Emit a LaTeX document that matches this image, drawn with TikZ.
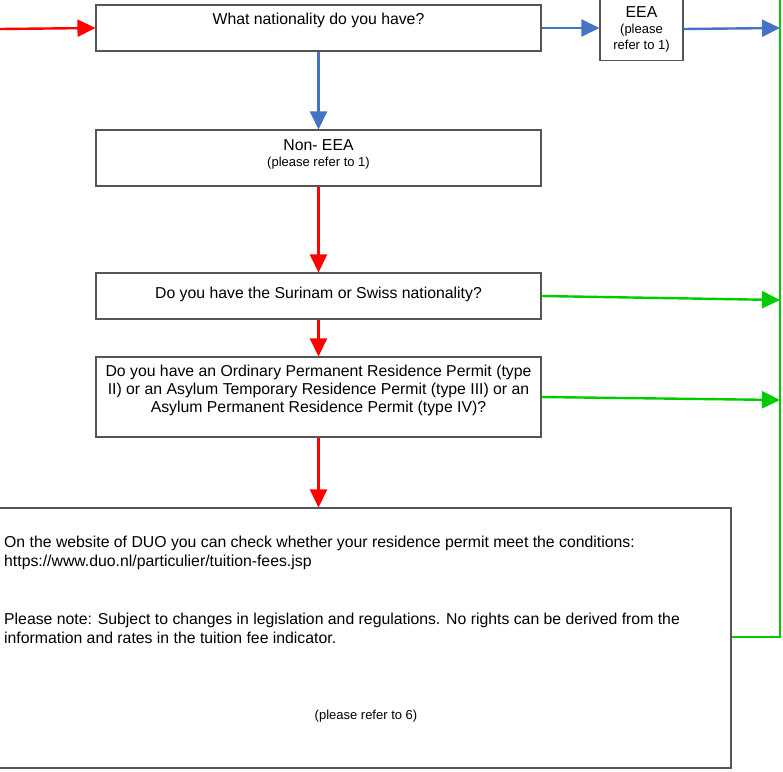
\documentclass[tikz,border=0pt]{standalone}
\usepackage{fontspec}
\setmainfont{Liberation Sans}
\usetikzlibrary{arrows.meta}
\definecolor{boxgray}{HTML}{555555}
\definecolor{arrred}{HTML}{FF0000}
\definecolor{arrblue}{HTML}{4472C4}
\definecolor{arrgreen}{HTML}{00CC00}
\tikzset{
  qbox/.style={draw=boxgray, line width=1.1pt, fill=white, inner sep=0pt},
  big/.style={font=\fontsize{15.8}{18}\selectfont, inner sep=0pt},
  small/.style={font=\fontsize{13}{16}\selectfont, inner sep=0pt},
  conn/.style={line width=2.4pt, -{Triangle[length=18pt,width=17pt]}},
  redc/.style={conn, draw=arrred, color=arrred},
  bluec/.style={conn, draw=arrblue, color=arrblue},
  greenc/.style={conn, draw=arrgreen, color=arrgreen},
}
\begin{document}
\begin{tikzpicture}[x=1pt,y=-1pt]
\useasboundingbox (0,0) rectangle (783,771);
% boxes
\node[qbox, minimum width=445pt, minimum height=46pt] (nat) at (318.5,28) {};
\node[qbox, minimum width=83pt, minimum height=61pt] (eea) at (641.5,30) {};
\node[qbox, minimum width=445pt, minimum height=56pt] (noneea) at (318.5,158) {};
\node[qbox, minimum width=445pt, minimum height=46pt] (sur) at (318.5,296) {};
\node[qbox, minimum width=445pt, minimum height=80pt] (perm) at (318.5,397) {};
\node[qbox, minimum width=735pt, minimum height=260pt] (duo) at (363.5,638) {};
% texts
\node[big] (t1) at (318.5,20) {What nationality do you have?};
\node[big] (t2) at (641.5,12) {EEA};
\node[small] (t3) at (641.5,30) {(please};
\node[small] (t4) at (641.5,46) {refer to 1)};
\node[big] (t5) at (318.5,145) {Non- EEA};
\node[small] (t6) at (318.5,163) {(please refer to 1)};
\node[big] (t7) at (318.5,294) {Do you have the Surinam or Swiss nationality?};
\node[big, align=center] (t8) at (318.5,390) {Do you have an Ordinary Permanent Residence Permit (type\\II) or an Asylum Temporary Residence Permit (type III) or an\\Asylum Permanent Residence Permit (type IV)?};
\node[big, anchor=base west] (t9) at (4,547) {On the website of DUO you can check whether your residence permit meet the conditions:};
\node[big, anchor=base west] (t10) at (4,566) {https://www.duo.nl/particulier/tuition-fees.jsp};
\node[big, anchor=base west] (t11) at (4,624) {Please note: Subject to changes in legislation and regulations. No rights can be derived from the};
\node[big, anchor=base west] (t12) at (4,643) {information and rates in the tuition fee indicator.};
\node[small] (t13) at (366,716) {(please refer to 6)};
% coordinates
\coordinate (start) at (0,29);
\coordinate (rtop) at (780,-2);
\coordinate (r1) at (780,28);
\coordinate (r2) at (780,300);
\coordinate (r3) at (780,400);
\coordinate (rb) at (780,637);
% connectors
\draw[redc] (start) -- (nat.west);
\draw[bluec] (nat.east) -- (eea.west |- nat.east);
\draw[bluec] (eea.east |- 0,29) -- (r1);
\draw[bluec] (nat.south) -- (noneea.north);
\draw[redc] (noneea.south) -- (sur.north);
\draw[redc] (sur.south) -- (perm.north);
\draw[redc] (perm.south) -- (duo.north -| perm.south);
\draw[greenc] (sur.east) ++(0,0) -- (r2);
\draw[greenc] (perm.east) -- (r3);
\draw[draw=arrgreen, line width=2.4pt] (duo.east |- rb) -- (rb) -- (rtop);
\end{tikzpicture}
\end{document}
